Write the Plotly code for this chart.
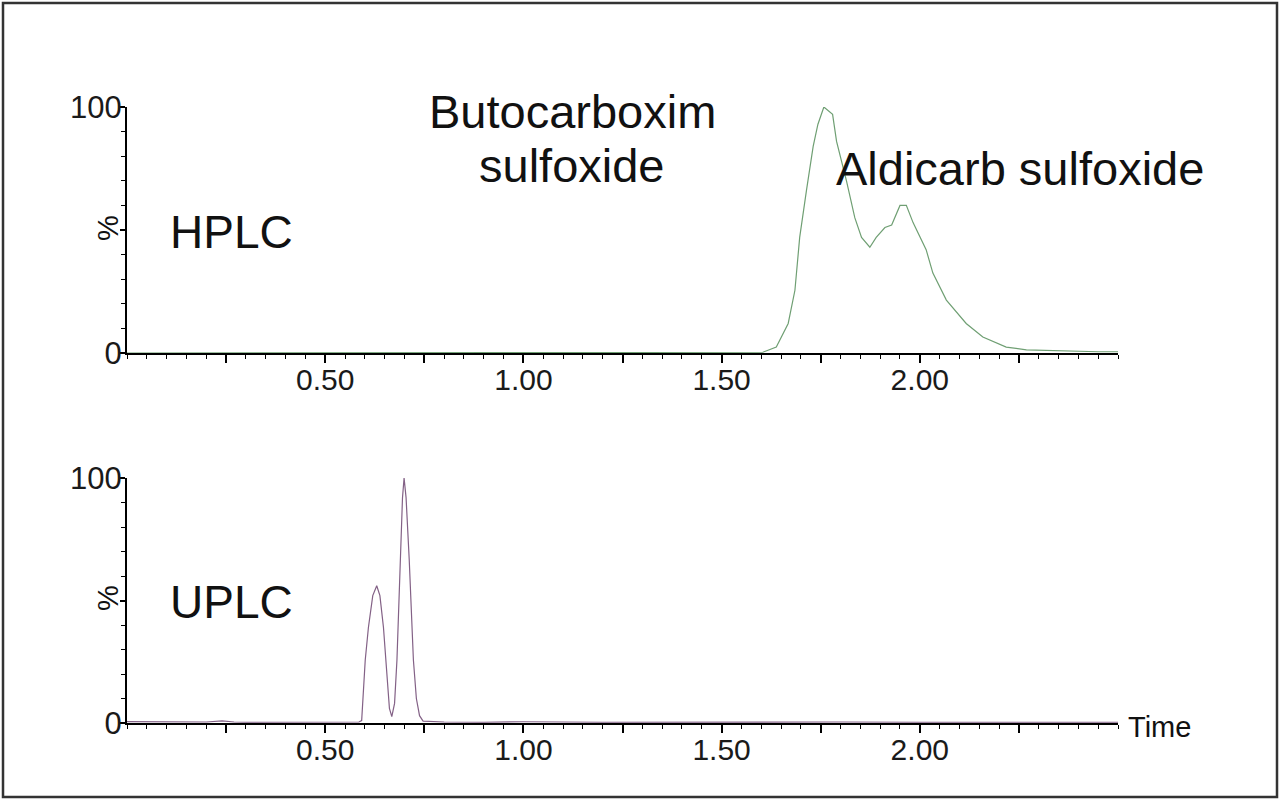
import plotly.graph_objects as go

# ---------------- data ----------------
hplc_time = [0.00, 0.50, 1.00, 1.40, 1.50, 1.58, 1.604, 1.638, 1.668, 1.685, 1.697, 1.714,
             1.731, 1.743, 1.758, 1.78, 1.79, 1.815, 1.836, 1.853, 1.874, 1.89, 1.912,
             1.929, 1.95, 1.966, 1.983, 2.016, 2.033, 2.067, 2.117, 2.159, 2.218, 2.269,
             2.37, 2.45, 2.50]
hplc_pct = [0.0, 0.0, 0.0, 0.0, 0.1, 0.2, 0.3, 2.4, 12, 25.5, 47, 66,
            84, 93, 100, 97, 86, 70, 55, 47, 43, 47, 51,
            52, 60, 60, 53, 42, 32.5, 21.5, 12, 6.5, 2.4, 1.3,
            0.7, 0.5, 0.5]

uplc_time = [0.00, 0.05, 0.10, 0.15, 0.20, 0.24, 0.27, 0.30, 0.40, 0.50, 0.55, 0.585,
             0.592, 0.601, 0.609, 0.62, 0.630, 0.638, 0.647, 0.655, 0.662, 0.668,
             0.675, 0.681, 0.689, 0.695, 0.699, 0.704, 0.712, 0.7225, 0.73, 0.738,
             0.747, 0.80, 0.90, 1.00, 1.20, 1.40, 1.60, 1.80, 2.00, 2.20, 2.40, 2.50]
uplc_pct = [0.6, 0.5, 0.4, 0.5, 0.4, 0.9, 0.4, 0.3, 0.3, 0.4, 0.3, 0.4,
            1.0, 25.7, 39, 52, 56, 52, 39, 20, 6, 2.6,
            8, 25.7, 66.5, 92, 100, 92, 66.5, 25.7, 10, 3,
            0.8, 0.4, 0.3, 0.5, 0.3, 0.4, 0.3, 0.4, 0.3, 0.4, 0.3, 0.3]

x_tickvals = [0.25, 0.50, 0.75, 1.00, 1.25, 1.50, 1.75, 2.00, 2.25]
x_ticktext = ["", "0.50", "", "1.00", "", "1.50", "", "2.00", ""]
y_tickvals = [0, 50, 100]
y_ticktext = ["0", "", "100"]

# ---------------- figure ----------------
W, H = 1280, 801
FONT = "Liberation Sans, Arial, Helvetica, sans-serif"

def px(x):
    return x / W

def py(y):
    return 1 - y / H

fig = go.Figure()
fig.add_trace(go.Scatter(x=hplc_time, y=hplc_pct, mode="lines",
                         line=dict(color="#6f9f73", width=1.2),
                         xaxis="x", yaxis="y", showlegend=False))
fig.add_trace(go.Scatter(x=uplc_time, y=uplc_pct, mode="lines",
                         line=dict(color="#836186", width=1.2),
                         xaxis="x2", yaxis="y2", showlegend=False))

xdom = [px(127), px(1118)]

def xax(anchor):
    return dict(domain=xdom, anchor=anchor, range=[0, 2.5], automargin=False,
                showline=True, linecolor="#000", linewidth=2,
                showgrid=False, zeroline=False,
                ticks="outside", ticklen=8, tickwidth=1.5, tickcolor="#000",
                tickmode="array", tickvals=x_tickvals, ticktext=x_ticktext,
                ticklabelstandoff=-9,
                minor=dict(tickmode="linear", tick0=0, dtick=0.05, ticks="outside",
                           ticklen=4, tickwidth=1, tickcolor="#000"),
                tickfont=dict(family=FONT, size=30, color="#1a1a1a"),
                fixedrange=True)

def yax(anchor, top, bottom):
    return dict(domain=[py(bottom), py(top)], anchor=anchor, range=[0, 100],
                automargin=False,
                showline=True, linecolor="#000", linewidth=2,
                showgrid=False, zeroline=False,
                ticks="outside", ticklen=5, tickwidth=1.5, tickcolor="#000",
                tickmode="array", tickvals=y_tickvals, ticktext=y_ticktext,
                ticklabelstandoff=-8,
                minor=dict(tickmode="linear", tick0=0, dtick=10, ticks="outside",
                           ticklen=4, tickwidth=1, tickcolor="#000"),
                tickfont=dict(family=FONT, size=31, color="#1a1a1a"),
                fixedrange=True)

fig.update_layout(
    template="none",
    width=W, height=H, autosize=False,
    margin=dict(l=0, r=0, t=0, b=0, pad=0, autoexpand=False),
    paper_bgcolor="white", plot_bgcolor="white",
    xaxis=xax("y"), yaxis=yax("x", 107, 353),
    xaxis2=xax("y2"), yaxis2=yax("x2", 478, 723),
    font=dict(family=FONT, color="#111"),
)

ann = []
def add_text(text, x, y, size, xanchor="left", angle=0):
    ann.append(dict(text=text, x=px(x), y=py(y), xref="paper", yref="paper",
                    xanchor=xanchor, yanchor="middle", showarrow=False,
                    textangle=angle, font=dict(family=FONT, size=size, color="#111")))

add_text("HPLC", 168, 232, 46)
add_text("UPLC", 168, 602, 46)
add_text("Butocarboxim", 572, 111, 47, xanchor="center")
add_text("sulfoxide", 572, 165, 47, xanchor="center")
add_text("Aldicarb sulfoxide", 1020, 169, 47, xanchor="center")
add_text("%", 108, 228, 29, xanchor="center", angle=-90)
add_text("%", 108, 598, 29, xanchor="center", angle=-90)
add_text("Time", 1126, 727, 29)
fig.update_layout(annotations=ann)

fig.add_shape(type="rect", xref="paper", yref="paper",
              x0=px(3), x1=px(1277), y0=py(797), y1=py(3),
              line=dict(color="#333", width=2.5), fillcolor="rgba(0,0,0,0)")

fig.write_html("out.html",
               config={"responsive": False, "displayModeBar": False},
               post_script="document.body.style.margin='0px';document.body.style.overflow='hidden';")
